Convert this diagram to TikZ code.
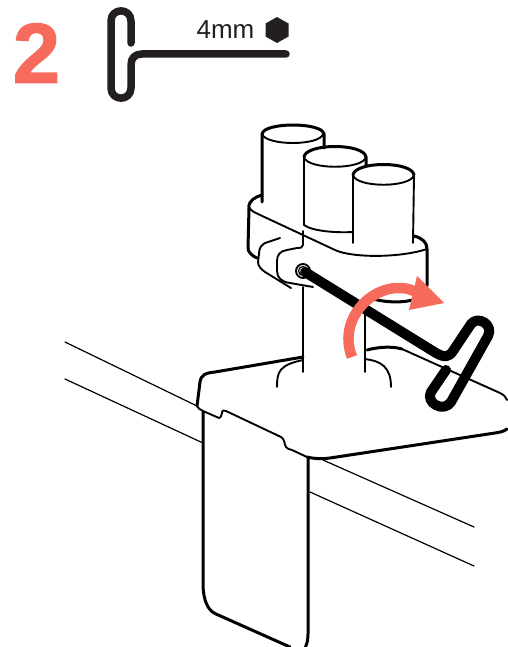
\documentclass[tikz,border=0pt]{standalone}
\usepackage{fontspec}
\setmainfont{Liberation Sans}
\definecolor{salmon}{HTML}{F66B5C}
\definecolor{ink}{HTML}{231F20}
\tikzset{
  thinl/.style={line width=1.2pt,black,line cap=round,line join=round},
  medl/.style={line width=1.9pt,black,line cap=round,line join=round},
  thickl/.style={line width=3pt,black,line cap=round,line join=round},
  keyl/.style={line width=7.5pt,ink,line cap=round,line join=round},
}
\begin{document}
\begin{tikzpicture}[x=1pt,y=-1pt]
\useasboundingbox (0,0) rectangle (507,647);
% header
\node[text=salmon,font=\bfseries\fontsize{85}{85}\selectfont,inner sep=0pt,anchor=center] (num) at (36.5,53) {\special{pdf:literal 2 Tr 1.2 w 0.965 0.42 0.36 RG}2\special{pdf:literal 0 Tr 0 G}};
\node[text=ink,font=\fontsize{26}{26}\selectfont,inner sep=0pt,anchor=center] (size) at (225.5,30) {4mm};
\fill[ink] (277,17) -- (288.5,23.5) -- (288.5,36.5) -- (277,43) -- (265.5,36.5) -- (265.5,23.5) -- cycle;
\draw[keyl] (131,43) -- (131,21) .. controls (131,7.5) and (111,7.5) .. (111,21) -- (111,88) .. controls (111,101.5) and (131,101.5) .. (131,88) -- (131,65) .. controls (131,58) and (135,54) .. (142,54) -- (286,54);
% desk edges
\draw[thinl] (65,342) -- (197,406);
\draw[thinl] (65,379) -- (203,443);
\draw[thinl] (323,460) -- (474,527);
\draw[thinl] (310,492) -- (474,566);
% cylinder 1
\draw[thickl] (262,202) -- (262,134) .. controls (264,122) and (322,122) .. (324,134) -- (324,148);
\draw[medl] (262,134) .. controls (266,146) and (320,146) .. (323,134);
% cylinder 2
\draw[thickl] (304,157) .. controls (306,143) and (364,143) .. (366,157) -- (366,166);
\draw[medl] (304,157) .. controls (307,170) and (363,170) .. (366,157);
\draw[medl] (304,157) -- (304,225) .. controls (312,231) and (335,233) .. (353,232);
% cylinder 3
\draw[thickl] (353,175) .. controls (355,161) and (412,161) .. (414,175);
\draw[medl] (353,175) .. controls (356,188) and (411,188) .. (414,175);
\draw[medl] (353,175) -- (353,243);
\draw[medl] (414,175) -- (413,243);
% clamp
\draw[thickl] (262,195) .. controls (255,197) and (248,201) .. (249,208) -- (248,248) .. controls (248,252) and (252,256) .. (257,258);
\draw[medl] (249,207) .. controls (251,211) and (254,212) .. (258,214) -- (335,250) .. controls (352,258) and (400,258) .. (427,249);
\draw[thickl] (414,236) .. controls (422,238) and (427,242) .. (427,249) -- (427,285);
\draw[medl] (303,231) -- (303,245) .. controls (303,248) and (300,248) .. (297,248) -- (287,250) .. controls (280,251) and (277,255) .. (277,261) -- (277,271) .. controls (277,278) and (282,282) .. (290,283) -- (313,287);
\draw[medl] (280,238) -- (268,242) .. controls (261,244) and (259,248) .. (259,254) -- (258,262) .. controls (258,266) and (261,269) .. (265,272) -- (291,288);
\draw[thickl] (370,298) .. controls (385,303) and (405,303) .. (416,299) .. controls (422,296) and (426,291) .. (427,285);
% screw
\draw[medl,fill=white] (303,271) circle[radius=7];
\draw[thinl] (303,271) circle[radius=4.5];
% post
\draw[medl] (303,287) -- (303,372);
\draw[medl] (365,310) -- (365,372);
% collar
\draw[medl] (277,387) .. controls (277,372) and (279,365) .. (303,360);
\draw[medl] (365,359) .. controls (380,361) and (391,366) .. (391,387);
% plate
\draw[thickl] (303,357) -- (215,372) .. controls (205,373) and (201,375) .. (200,382) -- (197,406);
\draw[thickl] (367,350) .. controls (378,347) and (392,346) .. (402,349);
\draw[medl] (402,349) -- (500,393) .. controls (504,395) and (506,397) .. (507,400);
\draw[thickl] (507,429) .. controls (503,432) and (500,432) .. (495,433) -- (330,458) .. controls (322,459) and (315,459) .. (307,457);
\draw[medl] (197,406) .. controls (198,408) and (200,410) .. (203,411) -- (219,418) .. controls (221,418) and (221,416) .. (222,413) .. controls (222,410) and (224,410) .. (226,411) -- (281,437) .. controls (285,439) and (284,444) .. (286,447) .. controls (287,449) and (289,449) .. (292,450) -- (307,457);
% clamp body
\draw[thickl] (203,412) -- (203,587) .. controls (204,600) and (207,610) .. (216,614) -- (290,647);
\draw[thickl] (308,458) -- (308,634) .. controls (308,640) and (307,644) .. (305,648);
% hex key
\draw[line width=10pt,black,line cap=round,line join=round] (305,272) -- (436,353) .. controls (445,358) and (449,357) .. (453,351) -- (471,324) .. controls (478,315) and (494,325) .. (488,336) -- (451,402) .. controls (444,413) and (425,403) .. (431,392) -- (446,370);
% rotation arrow
\draw[salmon,line width=10.5pt] (352,357) .. controls (338,322) and (368,287) .. (400,288) .. controls (405,288) and (410,289) .. (416,292);
\fill[salmon] (417,276) -- (444,303) -- (409,310) -- cycle;
\end{tikzpicture}
\end{document}
